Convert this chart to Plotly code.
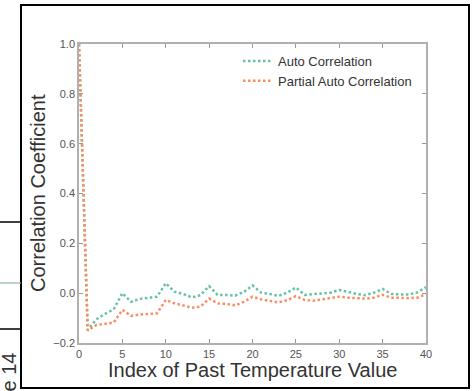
import plotly.graph_objects as go

lags = list(range(41))
acf = [1.0, -0.148, -0.105, -0.083, -0.065, 0.0, -0.035, -0.023, -0.019, -0.014,
       0.040, 0.006, -0.003, -0.017, -0.008, 0.028, -0.008, -0.007, -0.010, 0.005,
       0.031, 0.002, -0.003, -0.011, 0.002, 0.023, -0.007, -0.005, 0.0, 0.002,
       0.013, 0.004, -0.003, -0.008, 0.002, 0.017, -0.003, -0.005, -0.005, 0.003,
       0.024]
pacf = [1.0, -0.150, -0.128, -0.124, -0.118, -0.067, -0.091, -0.086, -0.083, -0.081,
        -0.027, -0.041, -0.049, -0.059, -0.054, -0.022, -0.041, -0.043, -0.049, -0.035,
        -0.014, -0.025, -0.031, -0.037, -0.028, -0.012, -0.027, -0.030, -0.025, -0.020,
        -0.014, -0.018, -0.020, -0.022, -0.018, -0.007, -0.018, -0.020, -0.020, -0.018,
        -0.004]
series_names = ["Auto Correlation", "Partial Auto Correlation"]
series_colors = ["#66c2a5", "#fc8d62"]
x_ticks = [0, 5, 10, 15, 20, 25, 30, 35, 40]
y_ticks = [-0.2, 0.0, 0.2, 0.4, 0.6, 0.8, 1.0]
y_tick_text = ["\u22120.2", "0.0", "0.2", "0.4", "0.6", "0.8", "1.0"]
x_title = "Index of Past Temperature Value"
y_title = "Correlation Coefficient"

W, H = 472, 391
L, R, T, B = 79, 426, 44, 343
pw, ph = R - L, B - T

def px(x):
    return (x - L) / pw

def py(y):
    return (B - y) / ph

FONT = "Liberation Sans, Arial"

fig = go.Figure()
for name, vals, col in zip(series_names, [acf, pacf], series_colors):
    fig.add_trace(go.Scatter(x=lags, y=vals, mode="lines", name=name,
                             line=dict(color=col, width=2.5, dash="2.5px,2.5px")))

axis_common = dict(showgrid=False, zeroline=False, showline=True, mirror="ticks",
                   linecolor="#b0b0b0", linewidth=1.5, ticks="inside", ticklen=4,
                   tickcolor="#999999", tickwidth=1,
                   tickfont=dict(family=FONT, size=11, color="#555555"))

fig.update_xaxes(range=[0, 40], tickvals=x_ticks, ticktext=[str(v) for v in x_ticks],
                 ticklabelstandoff=0, **axis_common)
fig.update_yaxes(range=[-0.2, 1.0], tickvals=y_ticks, ticktext=y_tick_text,
                 **axis_common)

shapes = [
    dict(type="rect", xref="paper", yref="paper", x0=px(21), x1=px(469), y0=py(388), y1=py(5),
         line=dict(color="black", width=2), layer="above"),
    dict(type="line", xref="paper", yref="paper", x0=px(0), x1=px(21), y0=py(222), y1=py(222),
         line=dict(color="black", width=1.5)),
    dict(type="line", xref="paper", yref="paper", x0=px(0), x1=px(21), y0=py(329), y1=py(329),
         line=dict(color="black", width=1.5)),
    dict(type="line", xref="paper", yref="paper", x0=px(0), x1=px(21), y0=py(283), y1=py(283),
         line=dict(color="#8fb3a8", width=1.2)),
]

annotations = [
    dict(text=x_title, xref="paper", yref="paper", x=px(252.5), y=py(369.5),
         xanchor="center", yanchor="middle", showarrow=False,
         font=dict(family=FONT, size=20, color="#333333")),
    dict(text=y_title, xref="paper", yref="paper", x=px(37.5), y=py(193.5),
         xanchor="center", yanchor="middle", showarrow=False, textangle=-90,
         font=dict(family=FONT, size=20, color="#333333")),
    dict(text="e 14", xref="paper", yref="paper", x=px(8), y=py(372.5),
         xanchor="center", yanchor="middle", showarrow=False, textangle=-90,
         font=dict(family=FONT, size=20, color="#333333")),
]

fig.update_layout(
    width=W, height=H,
    margin=dict(l=L, r=W - R, t=T, b=H - B),
    paper_bgcolor="white", plot_bgcolor="white",
    shapes=shapes,
    annotations=annotations,
    showlegend=True,
    legend=dict(x=px(238), y=py(46), xanchor="left", yanchor="top",
                bgcolor="rgba(0,0,0,0)", borderwidth=0, tracegroupgap=0,
                font=dict(family=FONT, size=13, color="#333333")),
)

fig.write_html("out.html", config={"displayModeBar": False},
               post_script="document.body.style.margin='0';document.body.style.padding='0';")
